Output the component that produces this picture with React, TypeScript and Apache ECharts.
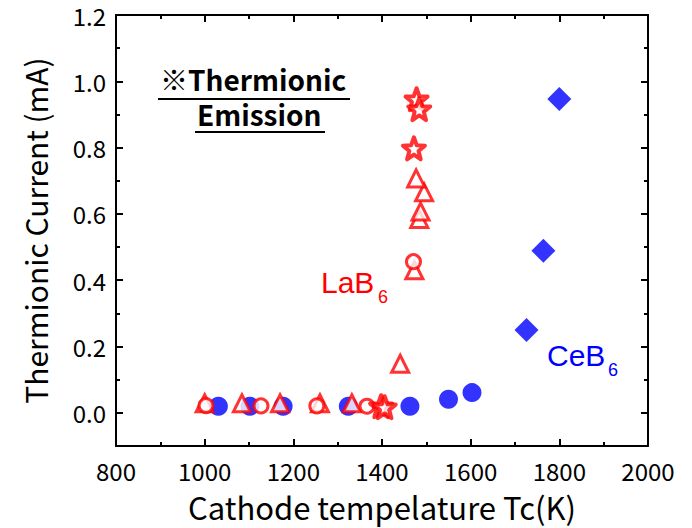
import React, { useEffect, useRef } from 'react';
import * as echarts from 'echarts';

// CeB6 (blue)
const ceb6Circles: [number, number][] = [
  [1031, 0.02], [1102, 0.02], [1177, 0.02], [1324, 0.02], [1463, 0.02], [1550, 0.041], [1603, 0.061],
];
const ceb6Diamonds: [number, number][] = [
  [1726, 0.25], [1764, 0.489], [1800, 0.947],
];
// LaB6 (red)
const lab6Triangles: [number, number][] = [
  [1000, 0.029], [1084, 0.029], [1170, 0.029], [1260, 0.029], [1332, 0.029], [1441, 0.148],
  [1473, 0.43], [1484, 0.585], [1487, 0.607], [1495, 0.665], [1477, 0.707],
];
const lab6Circles: [number, number][] = [
  [1003, 0.022], [1127, 0.021], [1253, 0.021], [1366, 0.02], [1471, 0.456],
];
const lab6Stars: [number, number][] = [
  [1398, 0.02], [1406, 0.017], [1472, 0.798], [1478, 0.946], [1484, 0.916],
];

const xMin = 800;
const xMax = 2000;
const xStep = 200;
const yMin = -0.1;
const yMax = 1.2;

const RED = '#ff0000';
const BLUE = '#0000ff';
const FONT = '"Noto Sans CJK JP", "Noto Sans", sans-serif';
const STAR =
  'path://M50,0 L62.34,33.01 L97.55,34.55 L69.97,56.49 L79.39,90.45 L50,71 L20.61,90.45 L30.03,56.49 L2.45,34.55 L37.66,33.01 Z';

export default function App() {
  const ref = useRef<HTMLDivElement>(null);
  useEffect(() => {
    document.body.style.margin = '0';
    const chart = echarts.init(ref.current!, undefined, { renderer: 'svg' });
    const axisLine = { show: true, onZero: false, lineStyle: { color: '#000', width: 2 } };
    const tick = { show: true, inside: true, length: 7, lineStyle: { color: '#000', width: 2 } };
    const minor = { show: true, splitNumber: 2, length: 4, lineStyle: { color: '#000', width: 2 } };
    chart.setOption({
      animation: false,
      backgroundColor: '#fff',
      grid: { left: 116, right: 44, top: 15, bottom: 82, containLabel: false },
      xAxis: [
        {
          type: 'value', min: xMin, max: xMax, interval: xStep, position: 'bottom',
          axisLine, axisTick: tick, minorTick: minor, splitLine: { show: false },
          axisLabel: { color: '#000', fontSize: 24, fontFamily: FONT, margin: 12, formatter: (v: number) => String(v) },
          name: 'Cathode tempelature Tc(K)', nameLocation: 'middle', nameGap: 45,
          nameTextStyle: { color: '#000', fontSize: 31, fontFamily: FONT },
        },
        {
          type: 'value', min: xMin, max: xMax, interval: xStep, position: 'top',
          axisLine, axisTick: tick, minorTick: minor, splitLine: { show: false },
          axisLabel: { show: false },
        },
      ],
      yAxis: [
        {
          type: 'value', min: yMin, max: yMax, splitNumber: 6, position: 'left',
          axisLine, axisTick: tick, minorTick: minor, splitLine: { show: false },
          axisLabel: {
            color: '#000', fontSize: 24, fontFamily: FONT, margin: 10,
            formatter: (v: number) => (v < -0.01 ? '' : v.toFixed(1)),
          },
          name: 'Thermionic Current (mA)', nameLocation: 'middle', nameGap: 66,
          nameTextStyle: { color: '#000', fontSize: 30, fontFamily: FONT },
        },
        {
          type: 'value', min: yMin, max: yMax, splitNumber: 6, position: 'right',
          axisLine, axisTick: tick, minorTick: minor, splitLine: { show: false },
          axisLabel: { show: false },
        },
      ],
      series: [
        {
          type: 'scatter', data: ceb6Circles, symbol: 'circle', symbolSize: 19,
          itemStyle: { color: BLUE }, z: 2,
        },
        {
          type: 'scatter', data: ceb6Diamonds, symbol: 'diamond', symbolSize: 24,
          itemStyle: { color: BLUE }, z: 2,
        },
        {
          type: 'scatter', data: lab6Triangles, symbol: 'triangle', symbolSize: 17,
          itemStyle: { color: '#fff', borderColor: RED, borderWidth: 3, borderJoin: 'miter' }, z: 3,
        },
        {
          type: 'scatter', data: lab6Circles, symbol: 'circle', symbolSize: 14,
          itemStyle: { color: '#fff', borderColor: RED, borderWidth: 3 }, z: 4,
        },
        {
          type: 'scatter', data: lab6Stars, symbol: STAR, symbolSize: 22,
          itemStyle: { color: '#fff', borderColor: RED, borderWidth: 4, borderJoin: 'round' }, z: 5,
        },
      ],
      graphic: [
        {
          type: 'text', x: 160, y: 79,
          style: { text: '※Thermionic', font: `bold 28px ${FONT}`, fill: '#000', align: 'left', verticalAlign: 'middle' },
        },
        { type: 'line', shape: { x1: 158, y1: 99, x2: 350, y2: 99 }, style: { stroke: '#000', lineWidth: 2 } },
        {
          type: 'text', x: 197, y: 114,
          style: { text: 'Emission', font: `bold 28px ${FONT}`, fill: '#000', align: 'left', verticalAlign: 'middle' },
        },
        { type: 'line', shape: { x1: 195, y1: 132, x2: 325, y2: 132 }, style: { stroke: '#000', lineWidth: 2 } },
        {
          type: 'text', x: 321, y: 282,
          style: { text: 'LaB', font: `30px "Liberation Sans", Arial, sans-serif`, fill: RED, align: 'left', verticalAlign: 'middle' },
        },
        {
          type: 'text', x: 378, y: 297,
          style: { text: '6', font: `18px "Liberation Sans", Arial, sans-serif`, fill: RED, align: 'left', verticalAlign: 'middle' },
        },
        {
          type: 'text', x: 547, y: 355,
          style: { text: 'CeB', font: `30px "Liberation Sans", Arial, sans-serif`, fill: BLUE, align: 'left', verticalAlign: 'middle' },
        },
        {
          type: 'text', x: 608, y: 370,
          style: { text: '6', font: `18px "Liberation Sans", Arial, sans-serif`, fill: BLUE, align: 'left', verticalAlign: 'middle' },
        },
      ],
    });
    return () => chart.dispose();
  }, []);
  return <div ref={ref} style={{ width: 692, height: 528 }} />;
}
